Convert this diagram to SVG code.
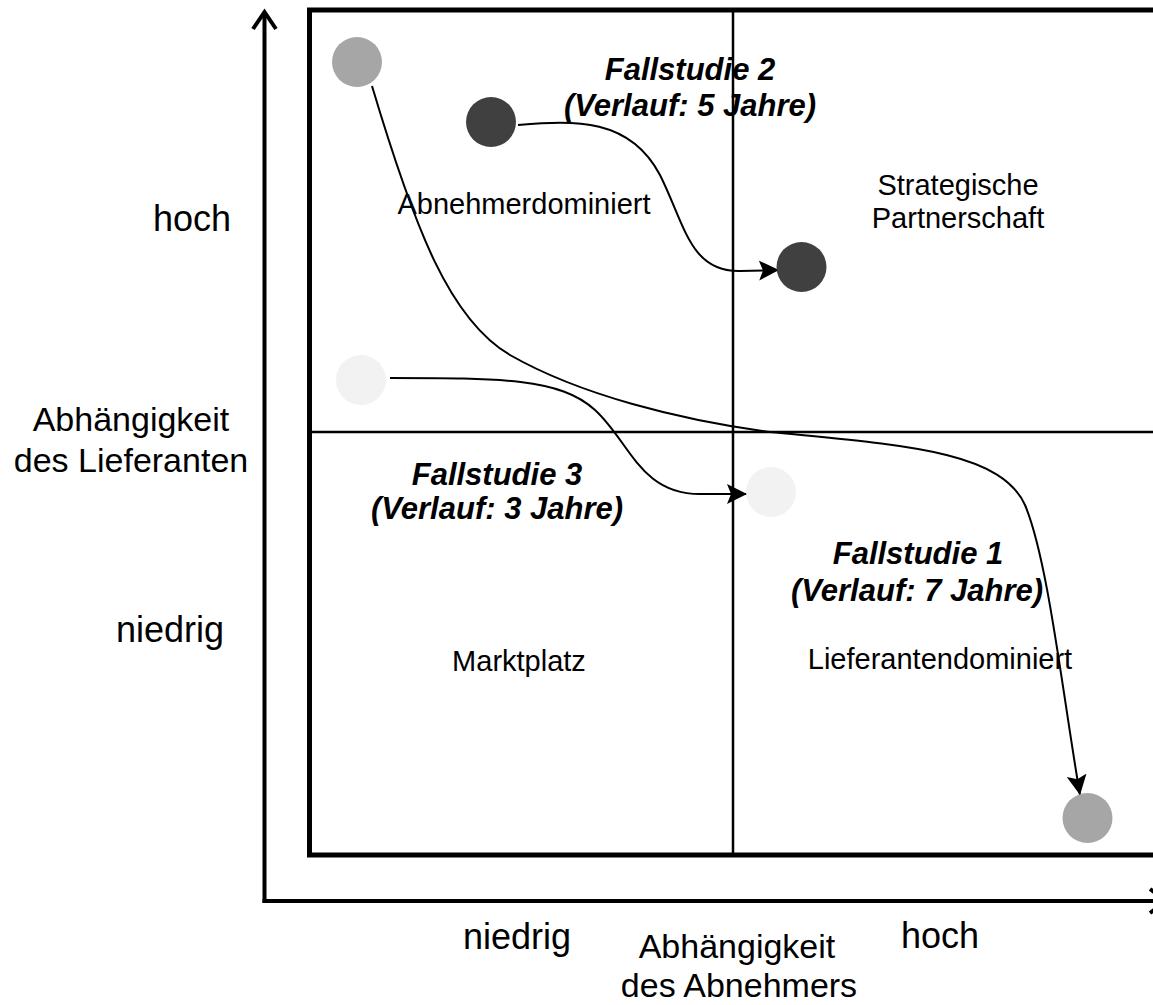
<svg xmlns="http://www.w3.org/2000/svg" width="1153" height="1005" viewBox="0 0 1153 1005">
<style>
.ax{font-family:"Liberation Sans",Arial,sans-serif;font-size:36px;fill:#000;text-anchor:middle}
.axt{font-family:"Liberation Sans",Arial,sans-serif;font-size:34px;fill:#000;text-anchor:middle}
.q{font-family:"Liberation Sans",Arial,sans-serif;font-size:29px;fill:#000;text-anchor:middle}
.fs{font-family:"Liberation Sans",Arial,sans-serif;font-size:31px;font-weight:bold;font-style:italic;fill:#000;text-anchor:middle}
.con{fill:none;stroke:#000;stroke-width:2}
</style>
<defs>
<marker id="ah" markerUnits="userSpaceOnUse" markerWidth="24" markerHeight="22" refX="20" refY="10" orient="auto">
<path d="M0,0 L20,10 L0,20 L4,10 z" fill="#000"/>
</marker>
</defs>
<rect width="1153" height="1005" fill="#fff"/>
<g id="axes" fill="none" stroke="#000" stroke-width="4">
<line x1="264.5" y1="903" x2="264.5" y2="12"/>
<polyline points="253,29 264.5,12 276,29" stroke-linejoin="miter"/>
<line x1="262.5" y1="901" x2="1160" y2="901"/>
<polyline points="1150,889 1166,901 1150,913"/>
</g>
<g id="matrix" fill="none" stroke="#000">
<rect x="309.5" y="10" width="900" height="845" stroke-width="5"/>
<line x1="733" y1="10" x2="733" y2="855" stroke-width="2.5"/>
<line x1="309" y1="432" x2="1160" y2="432" stroke-width="2.5"/>
</g>
<g id="axis-labels">
<text class="ax" x="192" y="231">hoch</text>
<text class="axt" x="131" y="431">Abhängigkeit</text>
<text class="axt" x="131" y="472">des Lieferanten</text>
<text class="ax" x="170" y="642">niedrig</text>
<text class="ax" x="517" y="949">niedrig</text>
<text class="axt" x="737" y="958">Abhängigkeit</text>
<text class="axt" x="739" y="997">des Abnehmers</text>
<text class="ax" x="940" y="948">hoch</text>
</g>
<g id="quadrant-labels">
<text class="q" x="524" y="214">Abnehmerdominiert</text>
<text class="q" x="958" y="195">Strategische</text>
<text class="q" x="958" y="228">Partnerschaft</text>
<text class="q" x="519" y="671">Marktplatz</text>
<text class="q" x="940" y="669">Lieferantendominiert</text>
</g>
<g id="connectors">
<path class="con" d="M372,86 C415,230 450,320 510,355 C580,395 680,420 770,432 C900,445 1000,450 1025,505 C1048,560 1062,690 1080,795" marker-end="url(#ah)"/>
<path class="con" d="M518,125 C575,120 630,118 660,175 C685,225 690,272 740,271 L779,270" marker-end="url(#ah)"/>
<path class="con" d="M390,378 C500,378 560,378 595,410 C630,442 640,494 700,494 L747,494" marker-end="url(#ah)"/>
</g>
<g id="case1-start"><circle cx="357" cy="62" r="25" fill="#a6a6a6"/></g>
<g id="case1-end"><circle cx="1087.5" cy="818" r="25" fill="#a6a6a6"/></g>
<g id="case2-start"><circle cx="491" cy="122" r="25" fill="#404040"/></g>
<g id="case2-end"><circle cx="801.5" cy="267" r="25" fill="#404040"/></g>
<g id="case3-start"><circle cx="361" cy="380" r="25" fill="#f2f2f2"/></g>
<g id="case3-end"><circle cx="771" cy="492" r="25" fill="#f2f2f2"/></g>
<g id="case-labels">
<text class="fs" x="690" y="80">Fallstudie 2</text>
<text class="fs" x="690" y="116">(Verlauf: 5 Jahre)</text>
<text class="fs" x="497" y="485">Fallstudie 3</text>
<text class="fs" x="497" y="519">(Verlauf: 3 Jahre)</text>
<text class="fs" x="918" y="564">Fallstudie 1</text>
<text class="fs" x="917" y="601">(Verlauf: 7 Jahre)</text>
</g>
</svg>
